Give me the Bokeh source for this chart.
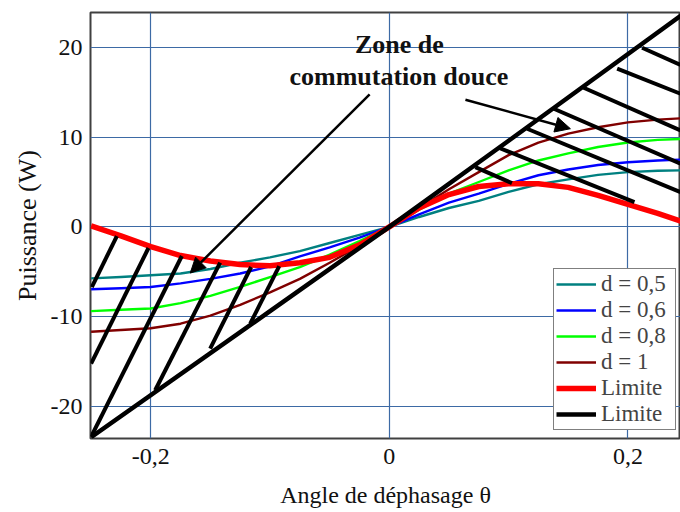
from bokeh.plotting import figure
from bokeh.models import (Range1d, FixedTicker, Legend, LegendItem, Arrow,
                          NormalHead, Label)
from bokeh.embed import file_html
from bokeh.resources import INLINE

# ---------------- data ----------------
theta = [-0.25, -0.225, -0.2, -0.175, -0.15, -0.125, -0.1, -0.075, -0.05, -0.025, 0.0,
         0.025, 0.05, 0.075, 0.1, 0.125, 0.15, 0.175, 0.2, 0.225, 0.245]
p_d05 = [-5.75, -5.6, -5.4, -5.2, -4.7, -4.0, -3.4, -2.7, -1.8, -0.9, 0.0,
         1.1, 2.1, 2.9, 3.9, 4.75, 5.3, 5.8, 6.1, 6.25, 6.3]
p_d06 = [-6.95, -6.85, -6.7, -6.3, -5.8, -5.2, -4.4, -3.3, -2.3, -1.2, 0.0,
         1.4, 2.7, 3.7, 4.8, 5.75, 6.4, 6.9, 7.2, 7.4, 7.5]
p_d08 = [-9.4, -9.25, -9.1, -8.5, -7.7, -6.7, -5.6, -4.5, -3.1, -1.6, 0.0,
         1.9, 3.7, 5.0, 6.3, 7.4, 8.2, 8.9, 9.4, 9.7, 9.8]
p_d1 = [-11.7, -11.5, -11.3, -10.8, -9.9, -8.7, -7.3, -5.8, -4.0, -2.1, 0.0,
        2.1, 4.2, 6.1, 8.0, 9.4, 10.4, 11.1, 11.65, 11.95, 12.1]
p_limit_red = [0.1, -1.0, -2.2, -3.2, -3.8, -4.2, -4.35, -4.0, -3.4, -2.0, 0.0,
               2.1, 3.6, 4.5, 4.8, 4.8, 4.4, 3.5, 2.5, 1.5, 0.6]

theta_black = [-0.25, -0.1, 0.0, 0.1, 0.245]
p_limit_black = [-23.45, -9.4, 0.0, 9.6, 23.6]

# hatch segments (start on the black limit, end on red curve / frame)
hatch_x0 = [0.2119, 0.1910, 0.1629, 0.1379, 0.1155, 0.0917, 0.0721,
            -0.2494, -0.2500, -0.2500, -0.1963, -0.1502, -0.1166]
hatch_y0 = [19.97, 17.63, 15.51, 13.17, 10.94, 8.82, 6.66,
            -6.71, -15.24, -23.42, -18.22, -13.57, -10.79]
hatch_x1 = [0.2441, 0.2441, 0.2441, 0.2441, 0.2441, 0.2055, 0.1028,
            -0.2284, -0.2019, -0.1739, -0.1418, -0.1158, -0.0923]
hatch_y1 = [18.05, 14.84, 10.75, 7.04, 3.88, 2.76, 4.88,
            -1.03, -2.36, -3.25, -3.99, -4.48, -4.37]

# annotation arrows
arrow_x0 = [-0.0165, 0.0638]
arrow_y0 = [14.76, 14.17]
arrow_x1 = [-0.1669, 0.1518]
arrow_y1 = [-5.15, 10.94]

x_ticks = [-0.2, 0.0, 0.2]
x_tick_labels = ["-0,2", "0", "0,2"]
y_ticks = [-20, -10, 0, 10, 20]
y_tick_labels = ["-20", "-10", "0", "10", "20"]

series_labels = ["d = 0,5", "d = 0,6", "d = 0,8", "d = 1", "Limite", "Limite"]
annotation_lines = ["Zone de", "commutation douce"]
x_title = "Angle de déphasage θ"
y_title = "Puissance (W)"

# ---------------- figure ----------------
FONT = "Liberation Serif"

p = figure(width=680, height=512,
           x_range=Range1d(-0.2505, 0.2441), y_range=Range1d(-23.6, 23.9),
           output_backend="svg", toolbar_location=None,
           min_border_left=90, min_border_right=0,
           min_border_top=12, min_border_bottom=74)

p.background_fill_color = "white"
p.border_fill_color = "white"
p.outline_line_color = "#404040"
p.outline_line_width = 2

p.xaxis.ticker = FixedTicker(ticks=x_ticks)
p.yaxis.ticker = FixedTicker(ticks=y_ticks)
p.xaxis.major_label_overrides = {t: l for t, l in zip(x_ticks, x_tick_labels)}
p.yaxis.major_label_overrides = {t: l for t, l in zip(y_ticks, y_tick_labels)}

for ax in (p.xaxis, p.yaxis):
    ax.axis_line_color = None
    ax.major_tick_line_color = None
    ax.minor_tick_line_color = None
    ax.major_tick_out = 0
    ax.major_tick_in = 0
    ax.minor_tick_out = 0
    ax.major_label_text_font = FONT
    ax.major_label_text_font_size = "24px"
    ax.major_label_text_color = "#111111"
    ax.axis_label_text_font = FONT
    ax.axis_label_text_font_style = "normal"
    ax.axis_label_text_color = "#111111"

p.xaxis.major_label_standoff = 10
p.yaxis.major_label_standoff = 8
p.xaxis.axis_label = x_title
p.xaxis.axis_label_text_font_size = "24px"
p.xaxis.axis_label_standoff = 15
p.yaxis.axis_label = y_title
p.yaxis.axis_label_text_font_size = "26px"
p.yaxis.axis_label_standoff = 6

p.xgrid.grid_line_color = "#3d6aa5"
p.ygrid.grid_line_color = "#3d6aa5"
p.xgrid.grid_line_width = 1.2
p.ygrid.grid_line_width = 1.2

# ---------------- curves ----------------
r05 = p.line(theta, p_d05, line_color="#008080", line_width=2.4, line_join="round")
r06 = p.line(theta, p_d06, line_color="#0000ff", line_width=2.4, line_join="round")
r08 = p.line(theta, p_d08, line_color="#00ff00", line_width=2.4, line_join="round")
r1 = p.line(theta, p_d1, line_color="#800000", line_width=2.4, line_join="round")
rred = p.line(theta, p_limit_red, line_color="#ff0000", line_width=5.5, line_join="round")
rblack = p.line(theta_black, p_limit_black, line_color="black", line_width=4.5,
                line_join="round")

p.segment(hatch_x0, hatch_y0, hatch_x1, hatch_y1, line_color="black", line_width=4)

for xs, ys, xe, ye in zip(arrow_x0, arrow_y0, arrow_x1, arrow_y1):
    p.add_layout(Arrow(end=NormalHead(size=15, fill_color="black", line_color="black"),
                       x_start=xs, y_start=ys, x_end=xe, y_end=ye,
                       line_color="black", line_width=2.5))

p.add_layout(Label(x=0.0084, y=20.33, text=annotation_lines[0], text_font=FONT,
                   text_font_size="26px", text_font_style="bold", text_align="center",
                   text_baseline="alphabetic", text_color="#111111"))
p.add_layout(Label(x=0.008, y=16.71, text=annotation_lines[1], text_font=FONT,
                   text_font_size="26px", text_font_style="bold", text_align="center",
                   text_baseline="alphabetic", text_color="#111111"))

# ---------------- legend ----------------
renderers = [r05, r06, r08, r1, rred, rblack]
legend = Legend(items=[LegendItem(label=l, renderers=[r]) for l, r in zip(series_labels, renderers)],
                location=(463, 8), margin=0, padding=2, spacing=0,
                glyph_width=40, glyph_height=24, label_height=24, label_width=72,
                label_standoff=5,
                label_text_font=FONT, label_text_font_size="23px",
                border_line_color="black", border_line_width=1.5,
                background_fill_color="white", background_fill_alpha=1.0)
p.add_layout(legend, "center")

open("out.html", "w").write(file_html(p, INLINE))
